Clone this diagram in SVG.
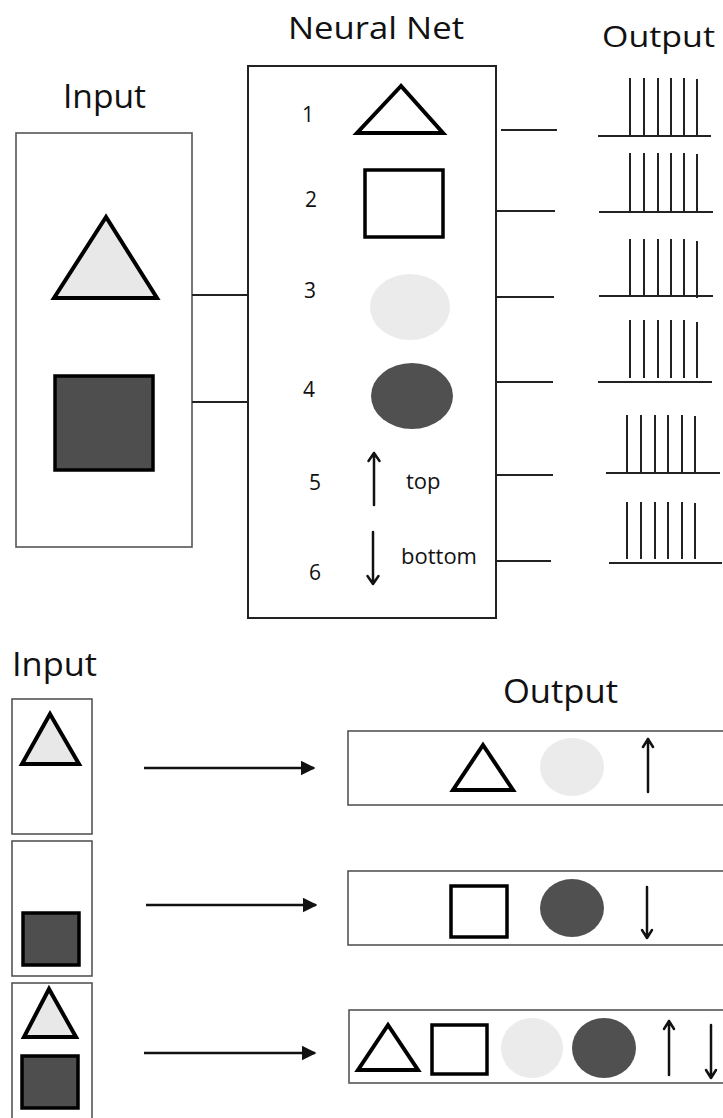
<svg xmlns="http://www.w3.org/2000/svg" width="723" height="1118" viewBox="0 0 723 1118">
  <defs>
    <style>
      .title { font-family: "Open Sans", "Liberation Sans", sans-serif; fill: #111; }
      .num { font-family: "Open Sans", "Liberation Sans", sans-serif; font-size: 21px; fill: #111; }
      .lbl { font-family: "Open Sans", "Liberation Sans", sans-serif; font-size: 22px; fill: #111; }
      .box { fill: #fff; stroke: #555; stroke-width: 1.6; }
      .netbox { fill: #fff; stroke: #222; stroke-width: 2; }
      .tri-light { fill: #e8e8e8; stroke: #000; stroke-width: 4; stroke-linejoin: miter; }
      .tri-open { fill: #fff; stroke: #000; stroke-width: 4; stroke-linejoin: miter; }
      .sq-dark { fill: #4e4e4e; stroke: #000; stroke-width: 3.5; }
      .sq-open { fill: #fff; stroke: #000; stroke-width: 3.5; }
      .blob-light { fill: #ebebeb; }
      .blob-dark { fill: #505050; }
      .wire { stroke: #222; stroke-width: 2; fill: none; }
      .spike { stroke: #222; stroke-width: 2; fill: none; }
      .sym { stroke: #111; stroke-width: 2.5; fill: none; stroke-linecap: round; stroke-linejoin: round; }
      .flow { stroke: #111; stroke-width: 2.5; fill: none; }
    </style>
    <marker id="head" viewBox="0 0 10 10" refX="9" refY="5" markerWidth="6" markerHeight="6" markerUnits="strokeWidth" orient="auto">
      <path d="M0,0 L10,5 L0,10 Z" fill="#111"/>
    </marker>
  </defs>

  <rect width="723" height="1118" fill="#fff"/>

  <!-- titles -->
  <text class="title" x="288" y="39" font-size="31" textLength="176" lengthAdjust="spacingAndGlyphs">Neural Net</text>
  <text class="title" x="602" y="47" font-size="30" textLength="113" lengthAdjust="spacingAndGlyphs">Output</text>
  <text class="title" x="63" y="108" font-size="33" textLength="83" lengthAdjust="spacingAndGlyphs">Input</text>
  <text class="title" x="12" y="676" font-size="33" textLength="85" lengthAdjust="spacingAndGlyphs">Input</text>
  <text class="title" x="503" y="703" font-size="33" textLength="115" lengthAdjust="spacingAndGlyphs">Output</text>

  <!-- input panel -->
  <g id="input-panel">
    <rect class="box" x="16" y="133" width="176" height="414"/>
    <polygon class="tri-light" points="106,217 54,298 157,298"/>
    <rect class="sq-dark" x="55" y="376" width="98" height="94"/>
  </g>

  <!-- neural net panel -->
  <g id="neural-net">
    <rect class="netbox" x="248" y="66" width="248" height="552"/>
    <text class="num" x="302" y="122">1</text>
    <polygon class="tri-open" points="401,86 357,133 443,133"/>
    <text class="num" x="305" y="207">2</text>
    <rect class="sq-open" x="365" y="170" width="78" height="67"/>
    <text class="num" x="304" y="298">3</text>
    <ellipse class="blob-light" cx="410" cy="307" rx="40" ry="33"/>
    <text class="num" x="303" y="397">4</text>
    <ellipse class="blob-dark" cx="412" cy="396" rx="41" ry="33"/>
    <text class="num" x="309" y="490">5</text>
    <path class="sym" d="M374,505 L374,453 M368.5,461 L374,453 L379.5,461"/>
    <text class="lbl" x="406" y="489">top</text>
    <text class="num" x="309" y="580">6</text>
    <path class="sym" d="M373,532 L373,584 M367.5,576 L373,584 L378.5,576"/>
    <text class="lbl" x="401" y="564">bottom</text>
  </g>

  <!-- spike trains -->
  <g id="spikes-1">
    <path class="spike" d="M598,136 H711 M630,78 V136 M644,78 V136 M658,78 V136 M671,78 V136 M684,78 V136 M697,79 V136"/>
  </g>
  <g id="spikes-2">
    <path class="spike" d="M599,212 H713 M630,153 V212 M644,153 V212 M658,153 V212 M671,153 V212 M684,153 V212 M697,154 V212"/>
  </g>
  <g id="spikes-3">
    <path class="spike" d="M599,296 H713 M630,239 V296 M644,239 V296 M658,239 V297 M671,239 V296 M684,239 V296 M697,241 V298"/>
  </g>
  <g id="spikes-4">
    <path class="spike" d="M598,382 H712 M630,320 V378 M644,320 V378 M658,320 V378 M671,320 V378 M684,320 V378 M697,322 V378"/>
  </g>
  <g id="spikes-5">
    <path class="spike" d="M606,473 H720 M627,415 V473 M641,415 V473 M655,415 V473 M668,415 V473 M682,415 V473 M695,416 V473"/>
  </g>
  <g id="spikes-6">
    <path class="spike" d="M609,563 H722 M627,502 V559 M641,502 V559 M655,502 V559 M668,502 V559 M682,502 V559 M695,503 V559"/>
  </g>

  <!-- example inputs -->
  <g id="example-input-1">
    <rect class="box" x="12" y="699" width="80" height="135"/>
    <polygon class="tri-light" points="50,714 22,764 79,764"/>
  </g>
  <g id="example-input-2">
    <rect class="box" x="12" y="841" width="80" height="135"/>
    <rect class="sq-dark" x="23" y="913" width="56" height="52"/>
  </g>
  <g id="example-input-3">
    <rect class="box" x="12" y="983" width="80" height="140"/>
    <polygon class="tri-light" points="49,989 24,1037 76,1037"/>
    <rect class="sq-dark" x="22" y="1056" width="56" height="52"/>
  </g>

  <!-- example outputs -->
  <g id="example-output-1">
    <rect class="box" x="348" y="731" width="382" height="74"/>
    <polygon class="tri-open" points="483,745 453,790 513,790"/>
    <ellipse class="blob-light" cx="572" cy="767" rx="32" ry="29"/>
    <path class="sym" d="M648,792 L648,739 M643,747 L648,739 L653,747"/>
  </g>
  <g id="example-output-2">
    <rect class="box" x="348" y="871" width="382" height="74"/>
    <rect class="sq-open" x="451" y="886" width="56" height="51"/>
    <ellipse class="blob-dark" cx="572" cy="908" rx="32" ry="29"/>
    <path class="sym" d="M647,887 L647,938 M642,930 L647,938 L652,930"/>
  </g>
  <g id="example-output-3">
    <rect class="box" x="349" y="1010" width="381" height="73"/>
    <polygon class="tri-open" points="388,1025 358,1070 418,1070"/>
    <rect class="sq-open" x="432" y="1025" width="55" height="49"/>
    <ellipse class="blob-light" cx="532" cy="1048" rx="31" ry="30"/>
    <ellipse class="blob-dark" cx="604" cy="1048" rx="32" ry="30"/>
    <path class="sym" d="M669,1075 L669,1021 M664,1029 L669,1021 L674,1029"/>
    <path class="sym" d="M711,1025 L711,1078 M706,1070 L711,1078 L716,1070"/>
  </g>

  <!-- connectors -->
  <g id="connectors">
    <path class="wire" d="M192,295 H248"/>
    <path class="wire" d="M192,402 H248"/>
    <path class="wire" d="M501,130 H557"/>
    <path class="wire" d="M497,211 H555"/>
    <path class="wire" d="M497,297 H554"/>
    <path class="wire" d="M496,382 H553"/>
    <path class="wire" d="M496,475 H553"/>
    <path class="wire" d="M496,561 H551"/>
    <path class="flow" d="M144,768 H314" marker-end="url(#head)"/>
    <path class="flow" d="M146,905 H316" marker-end="url(#head)"/>
    <path class="flow" d="M144,1053 H315" marker-end="url(#head)"/>
  </g>
</svg>
